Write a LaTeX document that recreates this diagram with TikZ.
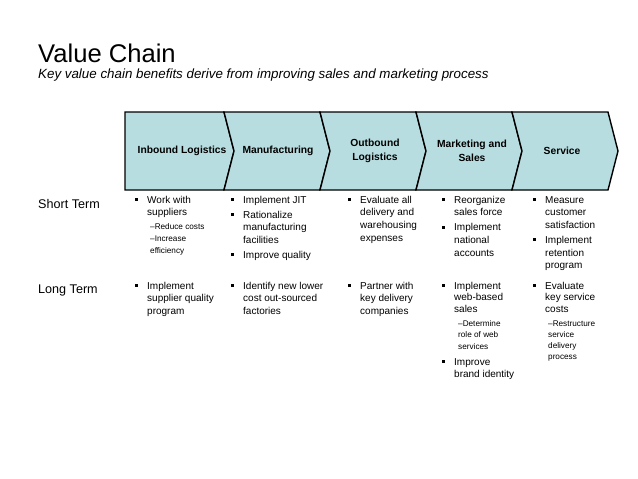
\documentclass[tikz,border=0pt]{standalone}
\usepackage{fontspec}
\setmainfont{Liberation Sans}
\definecolor{chev}{RGB}{183,221,224}
\newcommand\bul{\makebox[0pt][r]{\rule[0.22em]{3pt}{3pt}\hspace{9.5pt}}}
\newcommand\stk[2]{\vtop{\baselineskip=#1pt\lineskiplimit=-20pt\halign{##\hfil\cr#2\crcr}}}
\begin{document}
\begin{tikzpicture}[x=1pt,y=-1pt,
  txt/.style={inner sep=0pt, anchor=base west, font=\fontsize{10}{12.7}\selectfont},
  subtxt/.style={inner sep=0pt, anchor=base west, font=\fontsize{8.2}{11}\selectfont},
  rowlab/.style={inner sep=0pt, anchor=base west, font=\fontsize{12.6}{15}\selectfont},
  chevlab/.style={font=\fontsize{10.3}{13.5}\selectfont\bfseries, align=center, inner sep=0pt},
  seg/.style={fill=chev, draw=black, line width=1.4pt, line join=miter}]
\fill[white] (0,0) rectangle (638,479);
\useasboundingbox (0,0) rectangle (638,479);

% title
\node[inner sep=0pt, anchor=base west, font=\fontsize{25.6}{30}\selectfont] (title) at (38,62) {Value Chain};
\node[inner sep=0pt, anchor=base west, font=\fontsize{13.35}{16}\selectfont\itshape] (subtitle) at (38,78) {Key value chain benefits derive from improving sales and marketing process};

% chevrons
\path[seg] (125,112) -- (224,112) -- (234,151) -- (224,190) -- (125,190) -- cycle;
\foreach \a/\b in {224/320, 320/416, 416/512, 512/608}{
  \path[seg] (\a,112) -- (\b,112) -- (\b+10,151) -- (\b,190) -- (\a,190) -- (\a+10,151) -- cycle;
}
\node[chevlab] (c1) at (182,151) {Inbound Logistics};
\node[chevlab] (c2) at (278,151) {Manufacturing};
\node[chevlab] (c3) at (375,151) {Outbound\\Logistics};
\node[chevlab] (c4) at (472,151) {Marketing and\\Sales};
\node[chevlab] (c5) at (562,151) {Service};

% row labels
\node[rowlab] (short) at (38,208) {Short Term};
\node[rowlab] (long) at (38,293) {Long Term};

% short term
\node[txt] (s1a) at (147,203) {\bul\stk{12.7}{Work with\cr suppliers}};
\node[subtxt] (s1b) at (150,229) {\stk{12}{–Reduce costs\cr –Increase\cr efficiency}};

\node[txt] (s2a) at (243,203) {\bul\stk{12.7}{Implement JIT}};
\node[txt] (s2b) at (243,218) {\bul\stk{12.7}{Rationalize\cr manufacturing\cr facilities}};
\node[txt] (s2c) at (243,258.4) {\bul\stk{12.7}{Improve quality}};

\node[txt] (s3a) at (360,203) {\bul\stk{12.7}{Evaluate all\cr delivery and\cr warehousing\cr expenses}};

\node[txt] (s4a) at (454,203) {\bul\stk{12.7}{Reorganize\cr sales force}};
\node[txt] (s4b) at (454,230.7) {\bul\stk{12.7}{Implement\cr national\cr accounts}};

\node[txt] (s5a) at (545,203) {\bul\stk{12.7}{Measure\cr customer\cr satisfaction}};
\node[txt] (s5b) at (545,243.4) {\bul\stk{12.7}{Implement\cr retention\cr program}};

% long term
\node[txt] (l1a) at (147,289) {\bul\stk{12.5}{Implement\cr supplier quality\cr program}};
\node[txt] (l2a) at (243,289) {\bul\stk{12.5}{Identify new lower\cr cost out-sourced\cr factories}};
\node[txt] (l3a) at (360,289) {\bul\stk{12.5}{Partner with\cr key delivery\cr companies}};

\node[txt] (l4a) at (454,289) {\bul\stk{11.5}{Implement\cr web-based\cr sales}};
\node[subtxt] (l4b) at (458,326) {\stk{11.5}{–Determine\cr role of web\cr services}};
\node[txt] (l4c) at (454,365) {\bul\stk{12}{Improve\cr brand identity}};

\node[txt] (l5a) at (545,289) {\bul\stk{11.5}{Evaluate\cr key service\cr costs}};
\node[subtxt] (l5b) at (548,326) {\stk{11}{–Restructure\cr service\cr delivery\cr process}};
\end{tikzpicture}
\end{document}
